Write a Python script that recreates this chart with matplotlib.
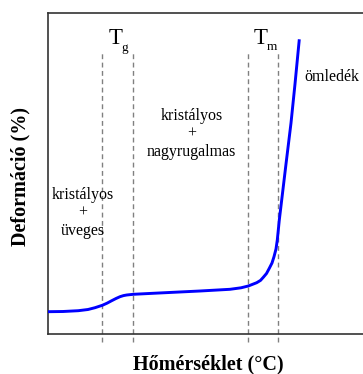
import numpy as np
import matplotlib
matplotlib.use("Agg")
from matplotlib import pyplot as plt

plt.rcParams['font.family'] = ['Liberation Serif', 'DejaVu Serif']

# deformation curve (arbitrary units)
temp = [0, 15, 30.3, 40, 47, 54.3, 59, 63.7, 68, 72, 75.5, 78.7, 85.3, 107,
        152, 182, 193, 200.3, 208.7, 212.5, 215.3, 218.5, 221.3, 224, 226,
        228, 229.3, 231.3, 233.7, 238, 243, 247, 251.3]
deform = [22.3, 22.5, 23.3, 24.5, 26.3, 28.7, 30.8, 33.3, 35.5, 37.3, 38.4,
          39, 39.7, 40.8, 43, 44.7, 46.2, 48, 51.3, 53.6, 56.7, 60.5, 65.7,
          71, 77.3, 85, 94, 114, 134, 170, 211, 250, 294.7]

# transition bands
tg_lines = [53.7, 85.3]
tm_lines = [200.3, 229.7]

fig = plt.figure(figsize=(3.63, 3.74), dpi=100)
ax = fig.add_axes([48 / 363, 40 / 374, 315 / 363, 321 / 374])
ax.set_xlim(0, 315)
ax.set_ylim(0, 321)

for x in tg_lines + tm_lines:
    ax.plot([x, x], [-8, 281], color="#808080", lw=1.0, ls=(0, (3.5, 2.5)),
            clip_on=False, zorder=1)

ax.plot(temp, deform, color="#0000ff", lw=2.1, solid_capstyle="butt",
        solid_joinstyle="round", zorder=3)

ax.spines["right"].set_visible(False)
for s in ["left", "bottom", "top"]:
    ax.spines[s].set_color("#333333")
    ax.spines[s].set_linewidth(1.2)
ax.set_xticks([])
ax.set_yticks([])

# T_g and T_m labels
ax.text(68, 290, "T", fontsize=16.5, ha="center", va="baseline")
ax.text(77, 283, "g", fontsize=9.5, ha="center", va="baseline")
ax.text(212.5, 290, "T", fontsize=16.5, ha="center", va="baseline")
ax.text(224, 284, "m", fontsize=9.5, ha="center", va="baseline")

ax.text(256, 257, "ömledék", fontsize=11.5, ha="left", va="center")
ax.text(143.7, 200, "kristályos\n+\nnagyrugalmas", fontsize=11.5,
        ha="center", va="center", linespacing=1.15)
ax.text(34.7, 121, "kristályos\n+\nüveges", fontsize=11.5,
        ha="center", va="center", linespacing=1.15)

ax.text(160, -35, "Hőmérséklet (°C)", fontsize=14.5, fontweight="bold",
        ha="center", va="baseline", clip_on=False)
ax.text(-27.3, 157, "Deformáció (%)", fontsize=14.5, fontweight="bold",
        ha="center", va="center", rotation=90, clip_on=False)

fig.savefig("out.png", dpi=100)
